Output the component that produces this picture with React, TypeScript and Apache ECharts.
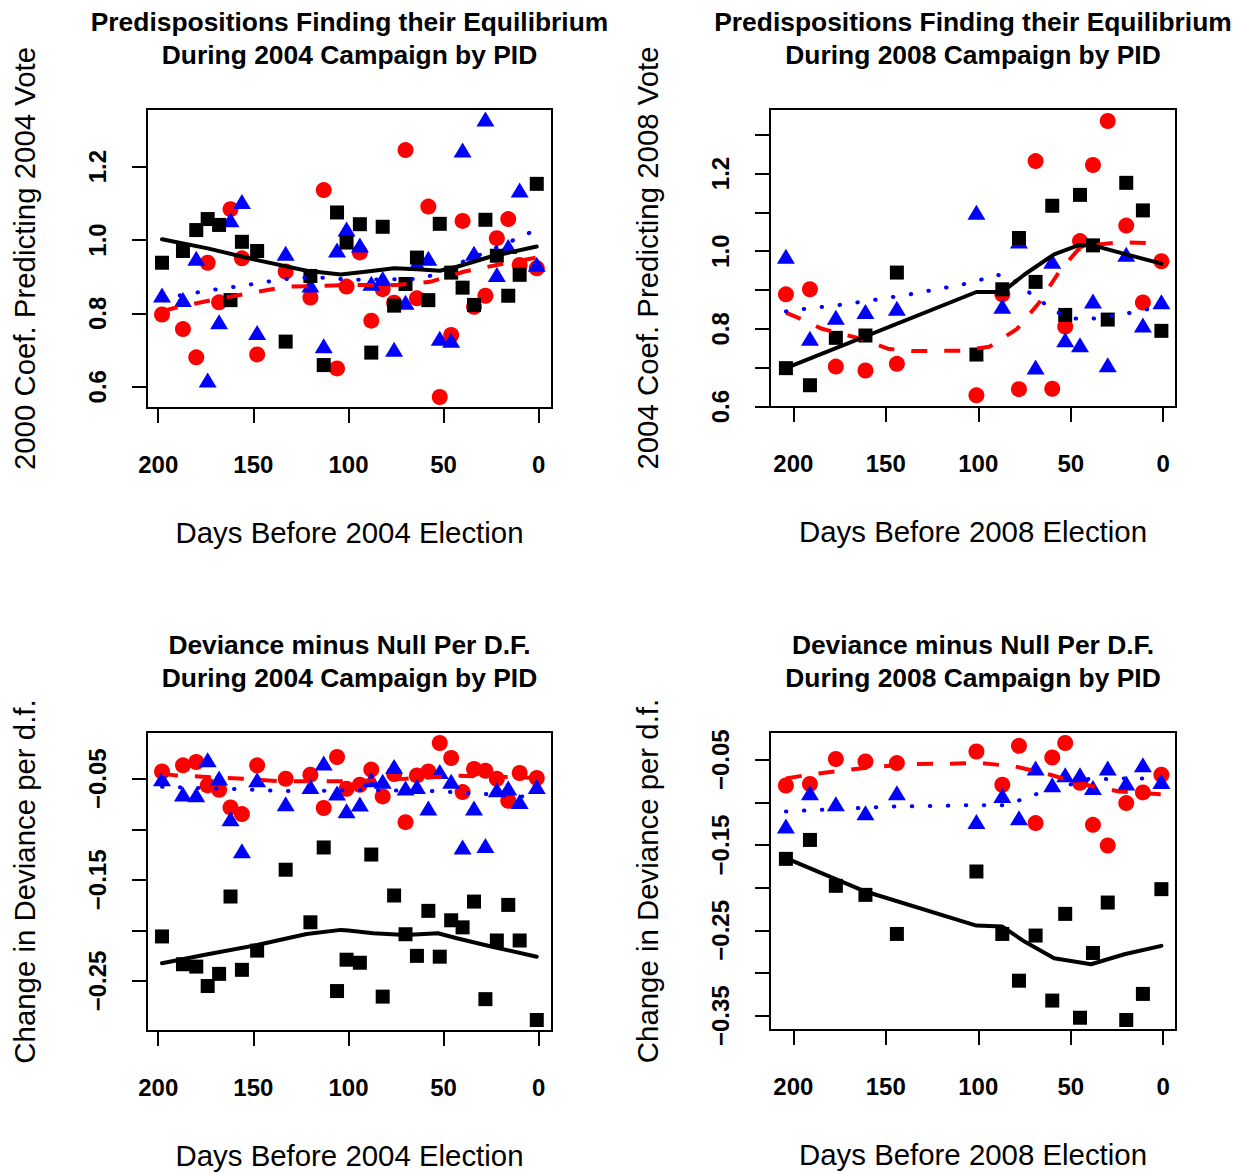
import React, { useEffect, useRef } from 'react';
import * as echarts from 'echarts';

// ---------- data ----------
const days2004 = [198, 187, 180, 174, 168, 162, 156, 148, 133, 120, 113, 106, 101, 94, 88, 82, 76, 70, 64, 58, 52, 46, 40, 34, 28, 22, 16, 10, 1];
const days2008 = [204, 191, 177, 161, 144, 101, 87, 78, 69, 60, 53, 45, 38, 30, 20, 11, 1];

// Panel 1: 2000 coef predicting 2004 vote
const coef04Black = [0.938, 0.970, 1.027, 1.057, 1.041, 0.836, 0.995, 0.970, 0.723, 0.902, 0.659, 1.075, 0.993, 1.043, 0.693, 1.036, 0.821, 0.880, 0.952, 0.836, 1.044, 0.911, 0.870, 0.823, 1.055, 0.957, 0.848, 0.905, 1.153];
const coef04Red = [0.797, 0.757, 0.680, 0.938, 0.830, 1.084, 0.950, 0.688, 0.914, 0.843, 1.136, 0.650, 0.873, 0.966, 0.780, 0.866, 0.829, 1.245, 0.841, 1.091, 0.572, 0.741, 1.052, 0.818, 0.848, 1.005, 1.057, 0.932, 0.923];
const coef04Blue = [0.850, 0.838, 0.950, 0.618, 0.777, 1.055, 1.105, 0.748, 0.964, 0.877, 0.712, 0.973, 1.030, 0.986, 0.882, 0.895, 0.702, 0.830, 0.936, 0.950, 0.732, 0.727, 1.245, 0.964, 1.330, 0.906, 0.982, 1.136, 0.934];
const coef04BlackFit = [[198, 1.002], [174, 0.977], [148, 0.945], [122, 0.916], [104, 0.906], [90, 0.914], [76, 0.923], [64, 0.920], [52, 0.916], [43, 0.927], [25, 0.955], [1, 0.982]];
const coef04RedFit = [[198, 0.806], [192, 0.814], [172, 0.836], [152, 0.855], [132, 0.873], [113, 0.875], [100, 0.877], [75, 0.877], [57, 0.886], [39, 0.914], [22, 0.932], [1, 0.952]];
const coef04BlueFit = [[198, 0.840], [193, 0.845], [174, 0.862], [156, 0.875], [137, 0.891], [127, 0.897], [109, 0.897], [100, 0.891], [62, 0.894], [53, 0.909], [44, 0.932], [27, 0.968], [10, 1.007], [1, 1.029]];

// Panel 2: 2004 coef predicting 2008 vote
const coef08Black = [0.699, 0.655, 0.777, 0.783, 0.945, 0.734, 0.902, 1.034, 0.921, 1.117, 0.836, 1.145, 1.015, 0.824, 1.176, 1.105, 0.795];
const coef08Red = [0.889, 0.902, 0.703, 0.693, 0.710, 0.629, 0.889, 0.645, 1.232, 0.646, 0.806, 1.026, 1.222, 1.335, 1.066, 0.868, 0.974];
const coef08Blue = [0.987, 0.776, 0.830, 0.845, 0.853, 1.100, 0.858, 1.026, 0.702, 0.974, 0.772, 0.759, 0.872, 0.708, 0.992, 0.810, 0.870];
const coef08BlackFit = [[204, 0.699], [101, 0.895], [87, 0.895], [75, 0.940], [59, 0.992], [46, 1.015], [38, 1.015], [21, 0.993], [1, 0.968]];
const coef08RedFit = [[204, 0.842], [192, 0.818], [185, 0.801], [163, 0.774], [149, 0.749], [136, 0.743], [109, 0.744], [94, 0.754], [79, 0.800], [67, 0.868], [56, 0.949], [46, 1.004], [35, 1.017], [24, 1.023], [1, 1.020]];
const coef08BlueFit = [[204, 0.845], [195, 0.851], [176, 0.861], [157, 0.874], [137, 0.889], [118, 0.906], [108, 0.915], [99, 0.926], [90, 0.940], [81, 0.926], [74, 0.899], [66, 0.871], [58, 0.844], [49, 0.827], [40, 0.825], [21, 0.838], [11, 0.849], [1, 0.855]];

// Panel 3: deviance minus null per d.f., 2004
const dev04Black = [-0.206, -0.2335, -0.2358, -0.255, -0.243, -0.1665, -0.239, -0.220, -0.140, -0.192, -0.118, -0.260, -0.229, -0.232, -0.125, -0.2655, -0.1655, -0.2038, -0.2252, -0.1807, -0.226, -0.190, -0.197, -0.1715, -0.268, -0.210, -0.1748, -0.210, -0.2886];
const dev04Red = [-0.0428, -0.0368, -0.0335, -0.0566, -0.0609, -0.0784, -0.085, -0.0368, -0.050, -0.046, -0.079, -0.0285, -0.0599, -0.056, -0.041, -0.0675, -0.0454, -0.093, -0.0467, -0.0428, -0.0147, -0.0295, -0.0632, -0.0404, -0.0421, -0.050, -0.0718, -0.0444, -0.0493];
const dev04Blue = [-0.050, -0.0652, -0.0658, -0.0312, -0.0493, -0.0896, -0.1213, -0.051, -0.0748, -0.0576, -0.0345, -0.0642, -0.0817, -0.0751, -0.051, -0.0526, -0.0378, -0.0592, -0.0576, -0.079, -0.0428, -0.0526, -0.1176, -0.079, -0.116, -0.0609, -0.0592, -0.0725, -0.0576];
const dev04BlackFit = [[198, -0.2325], [174, -0.2236], [148, -0.2144], [122, -0.2035], [104, -0.1995], [100, -0.2002], [87, -0.2028], [70, -0.2045], [53, -0.2028], [43, -0.2078], [25, -0.216], [1, -0.226]];
const dev04RedFit = [[198, -0.045], [191, -0.0467], [153, -0.0503], [135, -0.0526], [116, -0.0526], [97, -0.0526], [70, -0.050], [42, -0.047], [5, -0.049], [1, -0.049]];
const dev04BlueFit = [[198, -0.058], [181, -0.059], [161, -0.060], [143, -0.0615], [124, -0.0625], [96, -0.061], [58, -0.062], [48, -0.063], [39, -0.064], [29, -0.065], [1, -0.0685]];

// Panel 4: deviance minus null per d.f., 2008
const dev08Black = [-0.1662, -0.1440, -0.1978, -0.2084, -0.2542, -0.181, -0.2542, -0.309, -0.2561, -0.3323, -0.2307, -0.3524, -0.2765, -0.2174, -0.3551, -0.3245, -0.2017];
const dev08Red = [-0.0802, -0.0785, -0.0492, -0.052, -0.0539, -0.0403, -0.0793, -0.0337, -0.1243, -0.0474, -0.0304, -0.077, -0.1263, -0.1506, -0.1008, -0.0883, -0.0676];
const dev08Blue = [-0.1278, -0.0886, -0.1015, -0.1121, -0.0886, -0.1224, -0.0918, -0.1181, -0.0597, -0.0793, -0.0676, -0.0676, -0.0825, -0.0597, -0.0774, -0.0559, -0.0755];
const dev08BlackFit = [[204, -0.1653], [161, -0.2045], [101, -0.2444], [87, -0.2456], [75, -0.2632], [59, -0.2827], [39, -0.2897], [21, -0.278], [1, -0.2682]];
const dev08RedFit = [[204, -0.072], [194, -0.0684], [175, -0.0629], [157, -0.0586], [136, -0.055], [117, -0.0547], [99, -0.0539], [80, -0.0579], [61, -0.0676], [44, -0.0785], [24, -0.0872], [1, -0.0905]];
const dev08BlueFit = [[204, -0.1106], [145, -0.1047], [107, -0.1035], [87, -0.1035], [78, -0.0977], [69, -0.0906], [50, -0.0789], [40, -0.0723], [30, -0.0727], [21, -0.0719], [11, -0.0719], [1, -0.0727]];

// tick values
const xTicks = [0, 50, 100, 150, 200];
const yTicks1 = [0.6, 0.8, 1.0, 1.2];
const yLabels1 = [0.6, 0.8, 1.0, 1.2];
const yTicks2 = [0.6, 0.7, 0.8, 0.9, 1.0, 1.1, 1.2, 1.3];
const yLabels2 = [0.6, 0.8, 1.0, 1.2];
const yTicks3 = [-0.25, -0.2, -0.15, -0.1, -0.05];
const yLabels3 = [-0.25, -0.15, -0.05];
const yTicks4 = [-0.35, -0.3, -0.25, -0.2, -0.15, -0.1, -0.05];
const yLabels4 = [-0.35, -0.25, -0.15, -0.05];

const titles = [
  ['Predispositions Finding their Equilibrium', 'During 2004 Campaign by PID'],
  ['Predispositions Finding their Equilibrium', 'During 2008 Campaign by PID'],
  ['Deviance minus Null Per D.F.', 'During 2004 Campaign by PID'],
  ['Deviance minus Null Per D.F.', 'During 2008 Campaign by PID'],
];
const xTitles = ['Days Before 2004 Election', 'Days Before 2008 Election', 'Days Before 2004 Election', 'Days Before 2008 Election'];
const yTitles = ['2000 Coef. Predicting 2004 Vote', '2004 Coef. Predicting 2008 Vote', 'Change in Deviance per d.f.', 'Change in Deviance per d.f.'];

const FONT = '"Liberation Sans", Arial, Helvetica, sans-serif';
const BLACK = '#000000';
const RED = '#FF0000';
const BLUE = '#0000FF';

function pairs(xs: number[], ys: number[]) {
  return xs.map((x, i) => [x, ys[i]]);
}

const panels = [
  { grid: { left: 147, top: 109, width: 405, height: 299 }, xMin: -7.0, xMax: 205.9, yMin: 0.542, yMax: 1.357, yTicks: yTicks1, yLabels: yLabels1, dec: 1,
    days: days2004, black: coef04Black, red: coef04Red, blue: coef04Blue, blackFit: coef04BlackFit, redFit: coef04RedFit, blueFit: coef04BlueFit },
  { grid: { left: 770, top: 109, width: 406, height: 298 }, xMin: -6.9, xMax: 212.6, yMin: 0.599, yMax: 1.366, yTicks: yTicks2, yLabels: yLabels2, dec: 1,
    days: days2008, black: coef08Black, red: coef08Red, blue: coef08Blue, blackFit: coef08BlackFit, redFit: coef08RedFit, blueFit: coef08BlueFit },
  { grid: { left: 147, top: 732, width: 405, height: 299 }, xMin: -7.0, xMax: 205.9, yMin: -0.2995, yMax: -0.0038, yTicks: yTicks3, yLabels: yLabels3, dec: 2,
    days: days2004, black: dev04Black, red: dev04Red, blue: dev04Blue, blackFit: dev04BlackFit, redFit: dev04RedFit, blueFit: dev04BlueFit },
  { grid: { left: 770, top: 732, width: 406, height: 298 }, xMin: -6.9, xMax: 212.6, yMin: -0.3668, yMax: -0.0175, yTicks: yTicks4, yLabels: yLabels4, dec: 2,
    days: days2008, black: dev08Black, red: dev08Red, blue: dev08Blue, blackFit: dev08BlackFit, redFit: dev08RedFit, blueFit: dev08BlueFit },
];

function fmt(v: number, dec: number) {
  const s = Math.abs(v).toFixed(dec);
  return v < 0 ? '\u2212' + s : s;
}

function textEl(text: string, x: number, y: number, size: number, weight: string, rotation = 0) {
  return {
    type: 'text',
    x,
    y,
    rotation,
    silent: true,
    style: {
      text,
      fill: '#000',
      fontSize: size,
      fontWeight: weight,
      fontFamily: FONT,
      align: 'center',
      verticalAlign: 'middle',
      textAlign: 'center',
      textVerticalAlign: 'middle',
    },
  };
}

export default function App() {
  const ref = useRef<HTMLDivElement>(null);

  useEffect(() => {
    if (!ref.current) return;
    const chart = echarts.init(ref.current, undefined, { renderer: 'svg' });

    const grids = panels.map((p) => ({
      ...p.grid,
      show: true,
      borderColor: BLACK,
      borderWidth: 2,
      backgroundColor: 'transparent',
      containLabel: false,
    }));

    const xAxes = panels.map((p, i) => ({
      type: 'value',
      gridIndex: i,
      position: 'bottom',
      inverse: true,
      min: p.xMin,
      max: p.xMax,
      axisLine: { show: false, onZero: false },
      splitLine: { show: false },
      axisTick: { show: true, inside: false, length: 15, lineStyle: { color: BLACK, width: 2 }, customValues: xTicks },
      axisLabel: {
        show: true,
        customValues: xTicks,
        margin: 44,
        fontSize: 24,
        fontWeight: 'bold',
        color: BLACK,
        fontFamily: FONT,
        formatter: (v: number) => String(Math.round(v)),
      },
    }));

    const yAxes = panels.map((p, i) => ({
      type: 'value',
      gridIndex: i,
      position: 'left',
      min: p.yMin,
      max: p.yMax,
      axisLine: { show: false, onZero: false },
      splitLine: { show: false },
      axisTick: { show: true, inside: false, length: 15, lineStyle: { color: BLACK, width: 2 }, customValues: p.yTicks },
      axisLabel: {
        show: true,
        customValues: p.yLabels,
        rotate: 90,
        margin: 38,
        fontSize: 24,
        fontWeight: 'bold',
        color: BLACK,
        fontFamily: FONT,
        formatter: (v: number) => fmt(v, p.dec),
      },
    }));

    const series: any[] = [];
    panels.forEach((p, i) => {
      series.push({
        type: 'scatter', xAxisIndex: i, yAxisIndex: i, symbol: 'circle', symbolSize: 16,
        itemStyle: { color: RED, opacity: 1 }, data: pairs(p.days, p.red), silent: true,
      });
      series.push({
        type: 'scatter', xAxisIndex: i, yAxisIndex: i, symbol: 'triangle', symbolSize: [18, 15],
        itemStyle: { color: BLUE, opacity: 1 }, data: pairs(p.days, p.blue), silent: true,
      });
      series.push({
        type: 'scatter', xAxisIndex: i, yAxisIndex: i, symbol: 'rect', symbolSize: 14,
        itemStyle: { color: BLACK, opacity: 1 }, data: pairs(p.days, p.black), silent: true,
      });
      series.push({
        type: 'line', xAxisIndex: i, yAxisIndex: i, symbol: 'none', showSymbol: false, silent: true,
        lineStyle: { color: RED, width: 4, type: [16, 17], cap: 'butt' }, data: p.redFit,
      });
      series.push({
        type: 'line', xAxisIndex: i, yAxisIndex: i, symbol: 'none', showSymbol: false, silent: true,
        lineStyle: { color: BLUE, width: 4, type: [0.5, 17.5], cap: 'round' }, data: p.blueFit,
      });
      series.push({
        type: 'line', xAxisIndex: i, yAxisIndex: i, symbol: 'none', showSymbol: false, silent: true,
        lineStyle: { color: BLACK, width: 4, type: 'solid', cap: 'round', join: 'round' }, data: p.blackFit,
      });
    });

    const graphics: any[] = [];
    panels.forEach((p, i) => {
      const cx = p.grid.left + p.grid.width / 2;
      const cy = p.grid.top + p.grid.height / 2;
      const topRow = i < 2;
      const t1y = topRow ? 21.5 : 644.5;
      graphics.push(textEl(titles[i][0], cx, t1y, 26.4, 'bold'));
      graphics.push(textEl(titles[i][1], cx, t1y + 33.5, 26.4, 'bold'));
      graphics.push(textEl(xTitles[i], cx, p.grid.top + p.grid.height + 124, 29.4, 'normal'));
      const yx = p.grid.left - 123;
      graphics.push(textEl(yTitles[i], yx, cy, 29.4, 'normal', Math.PI / 2));
    });

    chart.setOption({
      animation: false,
      backgroundColor: '#ffffff',
      grid: grids,
      xAxis: xAxes,
      yAxis: yAxes,
      series,
      graphic: graphics,
    });

    return () => {
      chart.dispose();
    };
  }, []);

  return (
    <div
      ref={ref}
      style={{ position: 'absolute', left: 0, top: 0, width: 1243, height: 1173, background: '#fff' }}
    />
  );
}
